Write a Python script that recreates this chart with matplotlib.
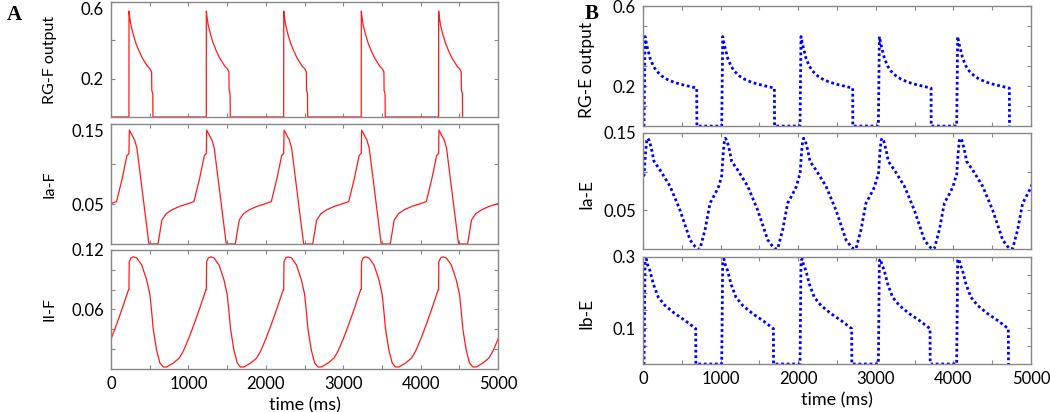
import numpy as np
import matplotlib.pyplot as plt

# cycle onsets (ms)
ONSETS_F = [-768, 232, 1231, 2231, 3233, 4232]
ONSETS_E = [-994, 13, 1014, 2023, 3033, 4042]

# one cycle of each trace: time after onset (ms), value
RGF_DT = [0, 1, 10, 25, 56, 90, 130, 170, 207, 240, 271, 293, 295, 305, 308, 310]
RGF_V = [0, 0.553, 0.52, 0.48, 0.43, 0.385, 0.345, 0.31, 0.286, 0.265, 0.252, 0.235, 0.14, 0.125, 0.12, 0]

IAF_DT = [0, 5, 30, 73, 103, 258, 375, 426, 482, 560, 654, 750, 840, 913, 975]
IAF_V = [0.113, 0.1425, 0.138, 0.13, 0.12, 0.0, 0.0, 0.030, 0.038, 0.043, 0.047, 0.050, 0.053, 0.082, 0.111]

IIF_DT = [0, 4, 26, 56, 99, 164, 228, 271, 293, 314, 357, 400, 444, 487, 573, 650, 702, 768, 831, 900, 960, 995]
IIF_V = [0.080, 0.108, 0.112, 0.113, 0.112, 0.105, 0.09, 0.075, 0.058, 0.040, 0.019, 0.006, 0.002, 0.002,
         0.006, 0.011, 0.018, 0.030, 0.043, 0.058, 0.072, 0.080]

RGE_DT = [0, 13, 34, 77, 120, 163, 230, 292, 380, 464, 570, 679, 681]
RGE_V = [0, 0.448, 0.407, 0.34, 0.30, 0.275, 0.25, 0.235, 0.22, 0.21, 0.20, 0.19, 0]

IAE_DT = [0, 20, 35, 47, 68, 99, 129, 206, 335, 464, 593, 657, 690, 721, 786, 850, 920, 960, 1000]
IAE_V = [0.095, 0.125, 0.14, 0.143, 0.140, 0.128, 0.113, 0.102, 0.081, 0.050, 0.0116, 0.003, 0.0, 0.0,
         0.0246, 0.059, 0.072, 0.080, 0.094]

IBE_DT = [0, 13, 30, 43, 77, 120, 184, 270, 399, 528, 666, 668]
IBE_V = [0, 0.29, 0.294, 0.28, 0.261, 0.224, 0.187, 0.164, 0.141, 0.122, 0.099, 0]


def build(onsets, dt, v):
    t = np.concatenate([np.array(dt) + o for o in onsets])
    y = np.concatenate([np.array(v) for _ in onsets])
    return t, y


plt.rcParams['font.family'] = ['Lato', 'DejaVu Sans']
fig = plt.figure(figsize=(10.5, 4.12), dpi=100)

left_pos = [[0.1057, 0.716, 0.3686, 0.279],
            [0.1057, 0.4078, 0.3686, 0.291],
            [0.1057, 0.1044, 0.3686, 0.289]]
right_pos = [[0.6124, 0.694, 0.3695, 0.291],
             [0.6124, 0.396, 0.3695, 0.2816],
             [0.6124, 0.1165, 0.3695, 0.26]]

panels = [
    (left_pos[0], ONSETS_F, RGF_DT, RGF_V, 'RG-F output', 0.6, [0.2, 0.4, 0.6], ['0.2', '', '0.6'], 'F', True),
    (left_pos[1], ONSETS_F, IAF_DT, IAF_V, 'Ia-F', 0.15, [0.05, 0.10, 0.15], ['0.05', '', '0.15'], 'F', True),
    (left_pos[2], ONSETS_F, IIF_DT, IIF_V, 'II-F', 0.12, [0.02, 0.04, 0.06, 0.08, 0.10, 0.12],
     ['', '', '0.06', '', '', '0.12'], 'F', False),
    (right_pos[0], ONSETS_E, RGE_DT, RGE_V, 'RG-E output', 0.6, [0.1, 0.2, 0.3, 0.4, 0.5, 0.6],
     ['', '0.2', '', '', '', '0.6'], 'E', False),
    (right_pos[1], ONSETS_E, IAE_DT, IAE_V, 'Ia-E', 0.15, [0.05, 0.10, 0.15], ['0.05', '', '0.15'], 'E', False),
    (right_pos[2], ONSETS_E, IBE_DT, IBE_V, 'Ib-E', 0.3, [0.05, 0.1, 0.15, 0.2, 0.25, 0.3],
     ['', '0.1', '', '', '', '0.3'], 'E', False),
]

for i, (pos, ons, dt, v, label, top, ticks, tlabels, side, top_label_down) in enumerate(panels):
    ax = fig.add_axes(pos)
    t, y = build(ons, dt, v)
    if side == 'F':
        ax.plot(t, y, color='#ff1a1a', lw=0.9)
        ax.set_ylabel(label, fontsize=11.5)
        ax.yaxis.set_label_coords(-0.14, 0.5)
    else:
        ax.plot(t, y, color='#0000ff', lw=2.0, ls=(0, (1, 1)))
        ax.set_ylabel(label, fontsize=12.5)
        ax.yaxis.set_label_coords(-0.125, 0.47)
    ax.set_xlim(0, 5000)
    ax.set_ylim(0, top)
    ax.set_xticks(np.arange(0, 5001, 500))
    ax.set_yticks(ticks, tlabels)
    ax.tick_params(direction='in', length=3, width=0.8, color='#888888', top=True, right=True,
                   labelsize=12, pad=5)
    for s in ax.spines.values():
        s.set_color('#888888')
        s.set_linewidth(1.0)
    if top_label_down:
        ax.get_yticklabels()[-1].set_verticalalignment('top')
    if i % 3 == 2:
        ax.set_xticks(np.arange(0, 5001, 1000), minor=False)
        ax.set_xticks(np.arange(500, 5000, 1000), minor=True)
        ax.tick_params(which='minor', direction='in', length=3, width=0.8, color='#888888', top=True)
        ax.set_xlabel('time (ms)', fontsize=13, labelpad=4)
    else:
        ax.set_xticklabels([])

fig.text(0.006, 0.963, 'A', fontsize=15, fontweight='bold', family='Liberation Serif', va='center')
fig.text(0.557, 0.966, 'B', fontsize=15, fontweight='bold', family='Liberation Serif', va='center')

fig.savefig('out.png', dpi=100)
